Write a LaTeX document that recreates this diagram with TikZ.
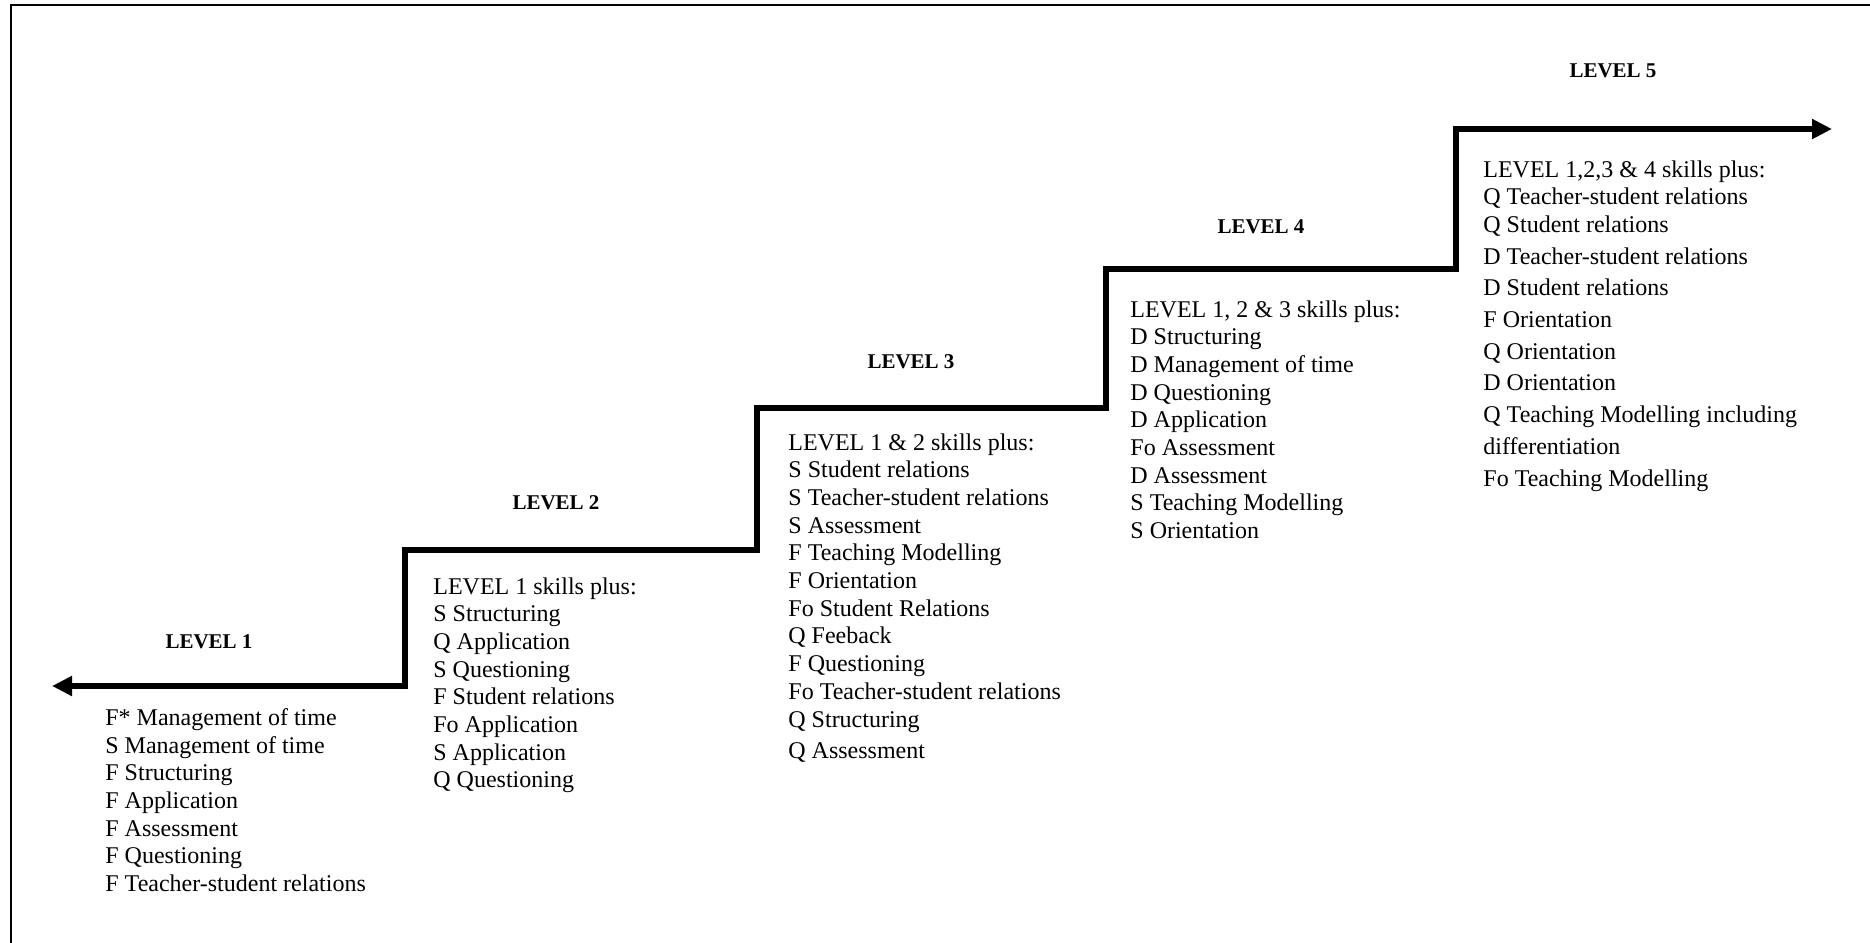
\documentclass[tikz,border=0pt]{standalone}
\usepackage{fontspec}
\setmainfont{Liberation Serif}
\usetikzlibrary{arrows.meta}

\begin{document}
\begin{tikzpicture}[
    x=0.5pt, y=-0.5pt,
    levelname/.style={inner sep=0pt, font=\fontsize{10.5}{12}\selectfont\bfseries},
    skills/.style={anchor=north west, inner sep=0pt, align=left, font=\fontsize{12}{13.85}\selectfont},
    stair/.style={line width=2.8pt, {Triangle[length=10pt,width=9.5pt]}-{Triangle[length=10pt,width=9.5pt]}},
    frame/.style={line width=1pt}
]
\useasboundingbox (0,0) rectangle (1870,943);

% frame
\draw[frame] (11,943) -- (11,5) -- (1870,5);

% staircase
\coordinate (tipleft) at (52,686);
\coordinate (stepone) at (405,686);
\coordinate (steptwo) at (757,550);
\coordinate (stepthree) at (1106,408);
\coordinate (stepfour) at (1456,269);
\coordinate (tipright) at (1832,129);
\draw[stair] (tipleft) -- (stepone) |- (steptwo) |- (stepthree) |- (stepfour) |- (tipright);

% level names
\node[levelname] (lvlone) at (209,642) {LEVEL 1};
\node[levelname] (lvltwo) at (556,503) {LEVEL 2};
\node[levelname] (lvlthree) at (911,362) {LEVEL 3};
\node[levelname] (lvlfour) at (1261,227) {LEVEL 4};
\node[levelname] (lvlfive) at (1613,71) {LEVEL 5};

% skills per level
\node[skills] (listone) at (105,708) {F* Management of time\\
    S Management of time\\
    F Structuring\\
    F Application\\
    F Assessment\\
    F Questioning\\
    F Teacher-student relations};
\node[skills] (listtwo) at (433,577) {LEVEL 1 skills plus:\\
    S Structuring\\
    Q Application\\
    S Questioning\\
    F Student relations\\
    Fo Application\\
    S Application\\
    Q Questioning};
\node[skills] (listthree) at (788,433) {LEVEL 1 \& 2 skills plus:\\
    S Student relations\\
    S Teacher-student relations\\
    S Assessment\\
    F Teaching Modelling\\
    F Orientation\\
    Fo Student Relations\\
    Q Feeback\\
    F Questioning\\
    Fo Teacher-student relations\\
    Q Structuring\\[2pt]
    Q Assessment};
\node[skills] (listfour) at (1130,300) {LEVEL 1, 2 \& 3 skills plus:\\
    D Structuring\\
    D Management of time\\
    D Questioning\\
    D Application\\
    Fo Assessment\\
    D Assessment\\
    S Teaching Modelling\\
    S Orientation};
\node[skills] (listfive) at (1483,160) {LEVEL 1,2,3 \& 4 skills plus:\\
    Q Teacher-student relations\\
    Q Student relations\\[2pt]
    D Teacher-student relations\\[2pt]
    D Student relations\\[2pt]
    F Orientation\\[2pt]
    Q Orientation\\[2pt]
    D Orientation\\[2pt]
    Q Teaching Modelling including\\[2pt]
    differentiation\\[2pt]
    Fo Teaching Modelling};

\end{tikzpicture}
\end{document}
